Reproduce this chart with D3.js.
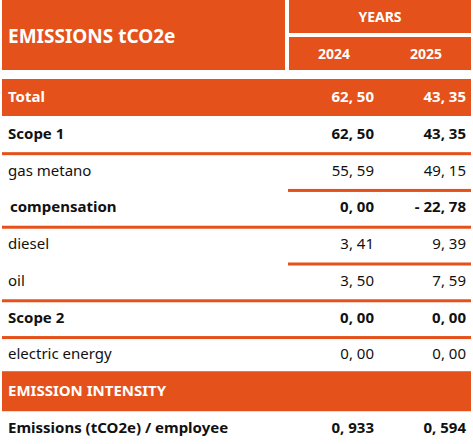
<!DOCTYPE html>
<html><head><meta charset="utf-8">
<script src="https://cdn.jsdelivr.net/npm/d3@7"></script>
<style>body{margin:0;background:#fff}</style>
</head><body><div id="chart"></div>
<script>
const rowLabels = ["Total", "Scope 1", "gas metano", "compensation", "diesel", "oil", "Scope 2", "electric energy", "EMISSION INTENSITY", "Emissions (tCO2e) / employee"];
const values2024 = ["62, 50", "62, 50", "55, 59", "0, 00", "3, 41", "3, 50", "0, 00", "0, 00", "", "0, 933"];
const values2025 = ["43, 35", "43, 35", "49, 15", "- 22, 78", "9, 39", "7, 59", "0, 00", "0, 00", "", "0, 594"];
const rowKinds = ["band", "bold", "plain", "bold", "plain", "plain", "bold", "plain", "band", "bold"];
const ruleAfter = ["", "full", "half", "full", "half", "full", "full", "", "", ""];
const years = ["2024", "2025"];

const W = 473, H = 444, orange = "#e5511a", font = "'Noto Sans', sans-serif";
const svg = d3.select("#chart").append("svg").attr("width", W).attr("height", H).style("font-family", font);

const y = d3.scalePoint().domain(d3.range(rowLabels.length)).range([97, 428]);
const step = y.step();
const colX = d3.scaleOrdinal().domain(years).range([374, 466]);
const headX = d3.scaleOrdinal().domain(years).range([334, 426]);

// header
svg.append("rect").attr("x", 2).attr("y", 0).attr("width", 283).attr("height", 70).attr("fill", orange);
svg.append("rect").attr("x", 289).attr("y", 0).attr("width", 182).attr("height", 33).attr("fill", orange);
svg.append("rect").attr("x", 289).attr("y", 37).attr("width", 182).attr("height", 33).attr("fill", orange);
svg.append("text").attr("x", 8).attr("y", 43).attr("fill", "#fff").attr("font-weight", 700).attr("font-size", 19).text("EMISSIONS tCO2e");
svg.append("text").attr("x", 380).attr("y", 22).attr("text-anchor", "middle").attr("fill", "#fff").attr("font-weight", 700).attr("font-size", 14).text("YEARS");
svg.selectAll(".yr").data(years).join("text").attr("x", d => headX(d)).attr("y", 59).attr("text-anchor", "middle")
  .attr("fill", "#fff").attr("font-weight", 700).attr("font-size", 14).text(d => d);

const rows = svg.selectAll(".row").data(rowLabels.map((l, i) => ({l, i}))).join("g")
  .attr("transform", d => `translate(0,${y(d.i)})`);
rows.filter(d => rowKinds[d.i] === "band").append("rect")
  .attr("x", 2).attr("y", -step / 2 + (0)).attr("width", 469).attr("height", d => d.i === 0 ? 37 : 40)
  .attr("y", d => d.i === 0 ? -18 : -20).attr("fill", orange);
const col = d => rowKinds[d.i] === "band" ? "#fff" : "#111";
const wt = d => rowKinds[d.i] === "plain" ? 400 : 700;
rows.append("text").attr("x", d => rowLabels[d.i] === "compensation" ? 10 : 8).attr("y", 5)
  .attr("fill", col).attr("font-weight", wt).attr("font-size", 15).text(d => d.l);
rows.append("text").attr("x", colX("2024")).attr("y", 5).attr("text-anchor", "end")
  .attr("fill", col).attr("font-weight", wt).attr("font-size", 15).text(d => values2024[d.i]);
rows.append("text").attr("x", colX("2025")).attr("y", 5).attr("text-anchor", "end")
  .attr("fill", col).attr("font-weight", wt).attr("font-size", 15).text(d => values2025[d.i]);
rows.filter(d => ruleAfter[d.i]).append("rect")
  .attr("x", d => ruleAfter[d.i] === "full" ? 2 : 288).attr("y", step / 2)
  .attr("width", d => ruleAfter[d.i] === "full" ? 469 : 183).attr("height", 3).attr("fill", orange);
</script></body></html>
